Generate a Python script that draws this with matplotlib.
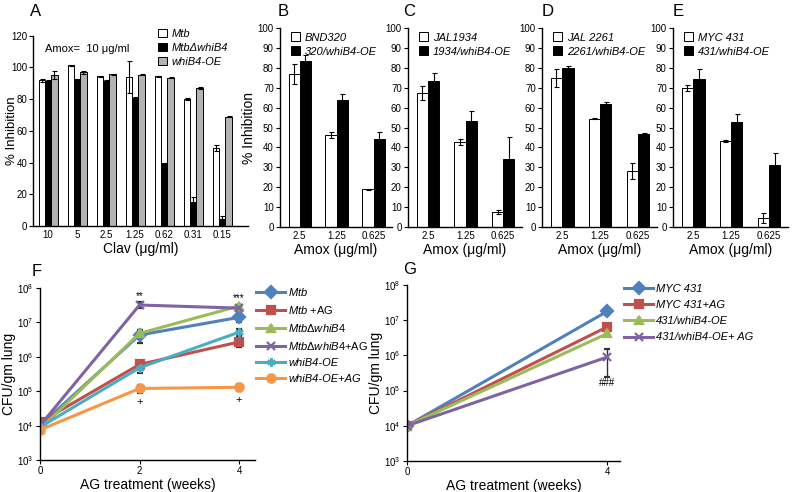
import matplotlib.pyplot as plt
from matplotlib.patches import Patch
from matplotlib.lines import Line2D

plt.rcParams['font.family'] = ['Liberation Sans', 'DejaVu Sans']
plt.rcParams['mathtext.fontset'] = 'custom'
plt.rcParams['mathtext.it'] = 'Liberation Sans:italic'
plt.rcParams['mathtext.rm'] = 'Liberation Sans'

# panel A: % inhibition vs clavulanate
clav_labels = ["10", "5", "2.5", "1.25", "0.62", "0.31", "0.15"]
a_mtb = [92, 101.5, 94.5, 94, 94.5, 80, 49]
a_mtb_err = [1, 0.3, 0.3, 10, 0.3, 0.5, 2]
a_dwhib4 = [91.5, 92.5, 91.5, 81, 39.5, 15, 4.5]
a_dwhib4_err = [0.3, 0.3, 0.3, 0.3, 0.3, 3.5, 1.5]
a_oe = [95.5, 96.8, 95.8, 95.3, 93.5, 87, 69]
a_oe_err = [2.5, 1, 0.3, 0.3, 0.3, 0.5, 0.3]
a_names = ["Mtb", "MtbΔwhiB4", "whiB4-OE"]

# panels B-E: % inhibition vs amoxicillin
amox_labels = ["2.5", "1.25", "0.625"]
b_names = ["BND320", "320/whiB4-OE"]
b_wt = [77, 46, 19]
b_wt_err = [5, 1.5, 0.3]
b_oe = [83.5, 64, 44]
b_oe_err = [3, 3, 3.5]
c_names = ["JAL1934", "1934/whiB4-OE"]
c_wt = [67.5, 42.5, 7.5]
c_wt_err = [3.5, 1.5, 0.8]
c_oe = [73.5, 53.5, 34]
c_oe_err = [4, 5, 11]
d_names = ["JAL 2261", "2261/whiB4-OE"]
d_wt = [75, 54.5, 28]
d_wt_err = [4.5, 0.3, 4]
d_oe = [80, 62, 46.5]
d_oe_err = [1, 1, 0.5]
e_names = ["MYC 431", "431/whiB4-OE"]
e_wt = [70, 43, 4.5]
e_wt_err = [1.5, 0.5, 2.5]
e_oe = [74.5, 53, 31]
e_oe_err = [5, 4, 6]

# panel F: CFU in lung
f_weeks = [0, 2, 4]
f_labels = [r"$\it{Mtb}$", r"$\it{Mtb}$ +AG", r"$\it{MtbΔwhiB4}$",
            r"$\it{MtbΔwhiB4}$+AG", "whiB4-OE", "whiB4-OE+AG"]
f_italic = [False, False, False, False, True, True]
f_values = [
    [1.0e4, 4.3e6, 1.4e7],
    [1.25e4, 6.0e5, 2.7e6],
    [0.8e4, 4.8e6, 3.0e7],
    [1.0e4, 3.2e7, 2.6e7],
    [0.9e4, 4.8e5, 5.2e6],
    [0.75e4, 1.2e5, 1.3e5],
]
f_errors = [
    [2e3, 1.8e6, 4e6],
    [2e3, 1.5e5, 8e5],
    [1.5e3, 1.2e6, 3e6],
    [2e3, 6e6, 3e6],
    [1.5e3, 1.5e5, 1.2e6],
    [1.5e3, 3e4, 3e4],
]

# panel G
g_weeks = [0, 4]
g_labels = ["MYC 431", "MYC 431+AG", "431/whiB4-OE", "431/whiB4-OE+ AG"]
g_values = [
    [1.0e4, 1.8e7],
    [1.0e4, 6.5e6],
    [1.0e4, 4.2e6],
    [1.0e4, 9.0e5],
]
g_errors = [
    [5e2, 4e6],
    [5e2, 1e6],
    [5e2, 5e5],
    [5e2, 6.5e5],
]

colors = ["#4F81BD", "#C0504D", "#9BBB59", "#8064A2", "#4BACC6", "#F79646"]
markers = ["D", "s", "^", "x", (6, 2, 0), "o"]

fig = plt.figure(figsize=(7.92, 4.92), dpi=100)


def add_ax(l, t, r, b):
    return fig.add_axes([l / 792, 1 - b / 492, (r - l) / 792, (b - t) / 492])


def clean(ax):
    ax.spines['top'].set_visible(False)
    ax.spines['right'].set_visible(False)
    for s in ['left', 'bottom']:
        ax.spines[s].set_linewidth(1.0)
    ax.tick_params(labelsize=7, length=3, width=0.8, pad=1.5)


err_kw = dict(ecolor="black", elinewidth=0.8, capsize=1.8, capthick=0.8)

# ---- A ----
ax = add_ax(33, 35.7, 248, 226)
x = range(len(clav_labels))
w = 0.22
for i, (vals, errs, fc) in enumerate([(a_mtb, a_mtb_err, "white"),
                                      (a_dwhib4, a_dwhib4_err, "black"),
                                      (a_oe, a_oe_err, "#B3B3B3")]):
    ax.bar([k + (i - 1) * w for k in x], vals, w, yerr=errs, color=fc,
           edgecolor="black", linewidth=0.7, error_kw=err_kw)
ax.set_xlim(-0.52, 6.89)
ax.set_ylim(0, 120)
ax.set_yticks(range(0, 121, 20))
ax.set_xticks(list(x))
ax.set_xticklabels(clav_labels)
clean(ax)
ax.tick_params(axis='y', pad=1)
ax.tick_params(axis='x', length=0, pad=3)
ax.set_ylabel("% Inhibition", fontsize=9.5)
ax.yaxis.set_label_coords(-0.072, 0.5)
ax.set_xlabel("Clav (μg/ml)", fontsize=10, labelpad=1)
ax.text(0.055, 0.93, "Amox=  10 μg/ml", transform=ax.transAxes, fontsize=8,
        va="center")
handles = [Patch(facecolor=c, edgecolor="black", linewidth=0.7)
           for c in ["white", "black", "#B3B3B3"]]
leg = ax.legend(handles, a_names, loc="upper left",
                bbox_to_anchor=(0.56, 1.06), frameon=False, fontsize=8,
                handlelength=0.8, handleheight=0.8, handletextpad=0.4,
                labelspacing=0.35, borderaxespad=0)
for t in leg.get_texts():
    t.set_fontstyle("italic")

# ---- B-E ----
panels = [
    (280, 392, b_names, b_wt, b_wt_err, b_oe, b_oe_err, True),
    (408, 522, c_names, c_wt, c_wt_err, c_oe, c_oe_err, False),
    (542, 657, d_names, d_wt, d_wt_err, d_oe, d_oe_err, False),
    (673, 788, e_names, e_wt, e_wt_err, e_oe, e_oe_err, False),
]
for l, r, names, wt, wt_err, oe, oe_err, ylab in panels:
    ax = add_ax(l, 28, r, 227)
    x = range(len(amox_labels))
    w = 0.3
    ax.bar([k - w / 2 for k in x], wt, w, yerr=wt_err, color="white",
           edgecolor="black", linewidth=0.7, error_kw=err_kw)
    ax.bar([k + w / 2 for k in x], oe, w, yerr=oe_err, color="black",
           edgecolor="black", linewidth=0.7, error_kw=err_kw)
    ax.set_xlim(-0.53, 2.5)
    ax.set_ylim(0, 100)
    ax.set_yticks(range(0, 101, 10))
    ax.set_xticks(list(x))
    ax.set_xticklabels(amox_labels)
    clean(ax)
    ax.tick_params(axis='x', length=0, pad=3)
    ax.set_xlabel("Amox (μg/ml)", fontsize=10, labelpad=1)
    if ylab:
        ax.set_ylabel("% Inhibition", fontsize=10, labelpad=1)
    handles = [Patch(facecolor=c, edgecolor="black", linewidth=0.7)
               for c in ["white", "black"]]
    leg = ax.legend(handles, names, loc="upper left",
                    bbox_to_anchor=(0.06, 1.0), frameon=False, fontsize=8,
                    handlelength=0.8, handleheight=0.8, handletextpad=0.4,
                    labelspacing=0.35, borderaxespad=0)
    for t in leg.get_texts():
        t.set_fontstyle("italic")


def log_panel(ax, weeks, values, errors, cols, marks):
    for vals, errs, c, m in zip(values, errors, cols, marks):
        ax.errorbar(weeks, vals, yerr=errs, color=c, marker=m, markersize=6,
                    mew=1.6, lw=2.2, ecolor="#333333", elinewidth=1.0,
                    capsize=2.5, capthick=1.0)
    ax.set_yscale("log")
    ax.set_ylim(1e3, 1e8)
    ax.set_xticks(weeks)
    clean(ax)
    ax.tick_params(axis='y', which='minor', length=0)
    ax.tick_params(labelsize=7)
    ax.set_xlabel("AG treatment (weeks)", fontsize=10, labelpad=1)
    ax.set_ylabel("CFU/gm lung", fontsize=10, labelpad=1)


# ---- F ----
ax = add_ax(40, 288, 255, 460)
log_panel(ax, f_weeks, f_values, f_errors, colors, markers)
ax.set_xlim(0, 4.32)
top_p = f_values[3][1] + f_errors[3][1]
ax.annotate("**", (f_weeks[1], top_p), xytext=(0, 1), textcoords="offset points",
            ha="center", va="bottom", fontsize=7)
top_g = f_values[2][2] + f_errors[2][2]
ax.annotate("***", (f_weeks[2], top_g), xytext=(0, 1), textcoords="offset points",
            ha="center", va="bottom", fontsize=7)
for k in [1, 2]:
    ax.annotate("+", (f_weeks[k], f_values[5][k] - f_errors[5][k]),
                xytext=(0, -3), textcoords="offset points", ha="center",
                va="top", fontsize=8)
handles = [Line2D([], [], color=c, marker=m, markersize=6, mew=1.6, lw=2.2)
           for c, m in zip(colors, markers)]
leg = ax.legend(handles, f_labels, loc="upper left",
                bbox_to_anchor=(0.985, 1.04), frameon=False, fontsize=8,
                handlelength=2.6, handletextpad=0.3, labelspacing=0.55,
                borderaxespad=0)
for t, it in zip(leg.get_texts(), f_italic):
    if it:
        t.set_fontstyle("italic")

# ---- G ----
ax = add_ax(407, 285, 620, 461)
log_panel(ax, g_weeks, g_values, g_errors, colors[:4], markers[:4])
ax.set_xlim(0, 4.25)
ax.annotate("###", (g_weeks[1], g_values[3][1] - g_errors[3][1]),
            xytext=(0, -1), textcoords="offset points", ha="center",
            va="top", fontsize=7)
handles = [Line2D([], [], color=c, marker=m, markersize=6, mew=1.6, lw=2.2)
           for c, m in zip(colors[:4], markers[:4])]
leg = ax.legend(handles, g_labels, loc="upper left",
                bbox_to_anchor=(1.0, 1.03), frameon=False, fontsize=8,
                handlelength=2.6, handletextpad=0.2, labelspacing=0.55,
                borderaxespad=0)
for t in leg.get_texts():
    t.set_fontstyle("italic")

# panel letters
for letter, px, py in [("A", 30, 11), ("B", 278, 11), ("C", 403, 11),
                       ("D", 542, 11), ("E", 673, 11), ("F", 32, 272),
                       ("G", 403, 270)]:
    fig.text(px / 792, 1 - py / 492, letter, fontsize=12, ha="left", va="center")

fig.savefig("out.png", dpi=100)
